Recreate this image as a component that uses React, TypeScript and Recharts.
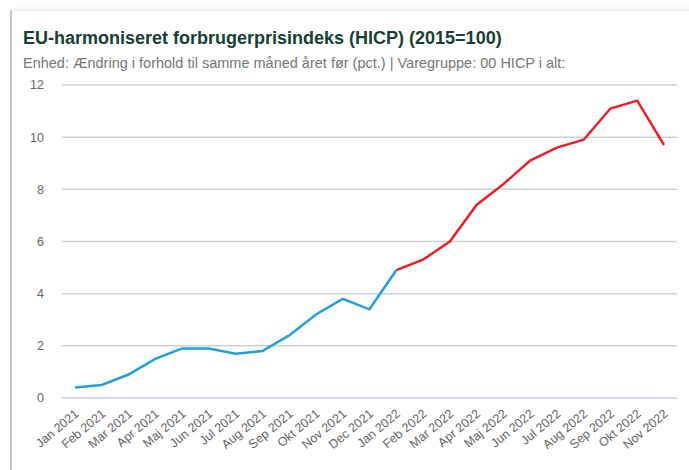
import { LineChart, Line, XAxis, YAxis, CartesianGrid } from 'recharts';

const months = [
  'Jan 2021', 'Feb 2021', 'Mar 2021', 'Apr 2021', 'Maj 2021', 'Jun 2021',
  'Jul 2021', 'Aug 2021', 'Sep 2021', 'Okt 2021', 'Nov 2021', 'Dec 2021',
  'Jan 2022', 'Feb 2022', 'Mar 2022', 'Apr 2022', 'Maj 2022', 'Jun 2022',
  'Jul 2022', 'Aug 2022', 'Sep 2022', 'Okt 2022', 'Nov 2022',
];

// 2021 through Jan 2022 (blue part)
const values2021 = [0.4, 0.5, 0.9, 1.5, 1.9, 1.9, 1.7, 1.8, 2.4, 3.2, 3.8, 3.4, 4.9];
// Jan 2022 onwards (red part)
const values2022 = [4.9, 5.3, 6.0, 7.4, 8.2, 9.1, 9.6, 9.9, 11.1, 11.4, 9.7];

const yTicks = [0, 2, 4, 6, 8, 10, 12];

const data = months.map((m, i) => ({
  month: m,
  blue: i < values2021.length ? values2021[i] : null,
  red: i >= values2021.length - 1 ? values2022[i - (values2021.length - 1)] : null,
}));

const FONT = '"Liberation Sans", Arial, sans-serif';

const MonthTick = (props: any) => {
  const { x, y, payload } = props;
  return (
    <g transform={`translate(${x + 2},${y})`}>
      <text
        x={0}
        y={0}
        dy={4}
        textAnchor="end"
        fill="#666666"
        fontSize={12.5}
        fontFamily={FONT}
        transform="rotate(-40)"
      >
        {payload.value}
      </text>
    </g>
  );
};

export default function App() {
  return (
    <div style={{ position: 'absolute', left: 0, top: 0, width: 689, height: 470, background: '#ffffff', overflow: 'hidden', fontFamily: FONT }}>
      {/* card frame */}
      <div
        style={{
          position: 'absolute',
          left: 10,
          top: 10,
          width: 700,
          height: 480,
          borderLeft: '2px solid #c4c4c4',
          borderTop: '1px solid #ececec',
          boxShadow: '0 -2px 3px rgba(0,0,0,0.06)',
          background: '#ffffff',
        }}
      />
      <div style={{ position: 'absolute', left: 23, top: 28, fontSize: 18, fontWeight: 'bold', color: '#173f35', whiteSpace: 'nowrap' }}>
        EU-harmoniseret forbrugerprisindeks (HICP) (2015=100)
      </div>
      <div style={{ position: 'absolute', left: 23, top: 55, fontSize: 14.5, color: '#777777', whiteSpace: 'nowrap' }}>
        Enhed: Ændring i forhold til samme måned året før (pct.) | Varegruppe: 00 HICP i alt:
      </div>
      <div style={{ position: 'absolute', left: 0, top: 0 }}>
        <LineChart width={689} height={470} data={data} margin={{ top: 85, right: 12, bottom: 12, left: 0 }}>
          <CartesianGrid horizontal vertical={false} stroke="#c9d3d7" strokeWidth={1.5} />
          <XAxis
            dataKey="month"
            interval={0}
            padding={{ left: 13, right: 13 }}
            tick={<MonthTick />}
            tickLine={false}
            axisLine={{ stroke: '#ccd6eb' }}
            height={60}
            tickMargin={8}
          />
          <YAxis
            domain={[0, 12]}
            ticks={yTicks}
            width={62}
            axisLine={false}
            tickLine={false}
            tickSize={0}
            tickMargin={18}
            tick={{ fill: '#666666', fontSize: 12.5, fontFamily: FONT }}
          />
          <Line dataKey="blue" stroke="#21a0da" strokeWidth={2.5} dot={false} isAnimationActive={false} connectNulls={false} />
          <Line dataKey="red" stroke="#e8202a" strokeWidth={2.5} dot={false} isAnimationActive={false} connectNulls={false} />
        </LineChart>
      </div>
    </div>
  );
}
